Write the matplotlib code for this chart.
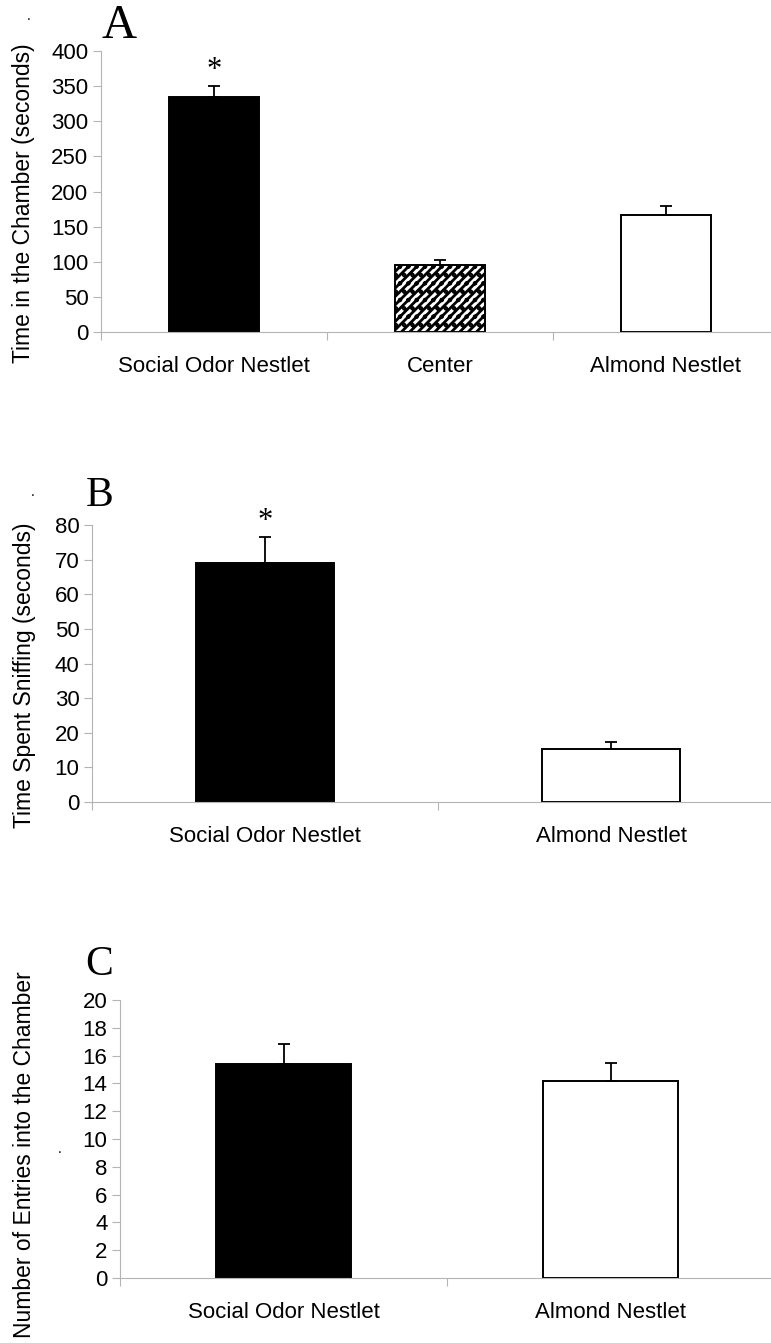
import matplotlib.pyplot as plt
from matplotlib.ticker import FixedLocator, NullFormatter

plt.rcParams['font.family'] = ['Liberation Sans', 'DejaVu Sans']
plt.rcParams['hatch.linewidth'] = 2.0

# Panel A
a_labels = ['Social Odor Nestlet', 'Center', 'Almond Nestlet']
a_values = [335, 96, 166]
a_errors = [15, 6, 13]
a_fills = ['black', 'white', 'white']
a_hatches = [None, '////..', None]

# Panel B
b_labels = ['Social Odor Nestlet', 'Almond Nestlet']
b_values = [69.1, 15.3]
b_errors = [7.4, 1.9]

# Panel C
c_labels = ['Social Odor Nestlet', 'Almond Nestlet']
c_values = [15.4, 14.15]
c_errors = [1.4, 1.35]

W, H = 771, 1343
fig = plt.figure(figsize=(W / 100, H / 100), dpi=100)
GRAY = '#b4b4b4'
FS = 16


def add_panel(left, top, bottom, cat_px, ncat, ylim, yticks):
    # pixel geometry -> figure coords; x axis runs to the right edge
    ax = fig.add_axes([left / W, 1 - bottom / H, (W - left) / W, (bottom - top) / H])
    ax.set_xlim(-0.5, -0.5 + (W - left) / cat_px)
    ax.set_ylim(*ylim)
    ax.set_yticks(yticks)
    for s in ['top', 'right']:
        ax.spines[s].set_visible(False)
    for s in ['left', 'bottom']:
        ax.spines[s].set_color(GRAY)
        ax.spines[s].set_linewidth(0.8)
    ax.tick_params(axis='y', colors=GRAY, labelcolor='black', length=6, width=0.8,
                   labelsize=FS, pad=3)
    # category separators as major ticks, labels on minor ticks
    ax.xaxis.set_major_locator(FixedLocator([i - 0.5 for i in range(ncat + 1)]))
    ax.xaxis.set_major_formatter(NullFormatter())
    ax.tick_params(axis='x', which='major', colors=GRAY, length=6, width=0.8)
    ax.xaxis.set_minor_locator(FixedLocator(range(ncat)))
    ax.tick_params(axis='x', which='minor', length=0, labelsize=FS, pad=17)
    return ax


def draw_bars(ax, values, errors, fills, hatches, width):
    x = list(range(len(values)))
    ax.bar(x, values, width=width, color=fills, edgecolor='black', linewidth=1.4,
           hatch=hatches, zorder=2)
    ax.errorbar(x, values, yerr=[[0] * len(errors), errors], fmt='none',
                ecolor='black', elinewidth=1.3, capsize=4, capthick=1.3, zorder=3)


# ---- A ----
axA = add_panel(101, 51, 332, 226, 3, (0, 400), range(0, 401, 50))
draw_bars(axA, a_values, a_errors, a_fills, a_hatches, 0.40)
axA.set_xticklabels(a_labels, minor=True)
axA.text(0, a_values[0] + a_errors[0] + 2, '*', ha='center', va='bottom',
         fontsize=22, family='Liberation Serif')

# ---- B ----
axB = add_panel(92, 525, 802, 346, 2, (0, 80), range(0, 81, 10))
draw_bars(axB, b_values, b_errors, ['black', 'white'], [None, None], 0.40)
axB.set_xticklabels(b_labels, minor=True)
axB.text(0, b_values[0] + b_errors[0] + 0.3, '*', ha='center', va='bottom',
         fontsize=22, family='Liberation Serif')

# ---- C ----
axC = add_panel(120, 1000, 1278, 327, 2, (0, 20), range(0, 21, 2))
draw_bars(axC, c_values, c_errors, ['black', 'white'], [None, None], 0.41)
axC.set_xticklabels(c_labels, minor=True)

# panel letters, y labels and stray dots
for lab, x, y, size in [('A', 119, 26, 35), ('B', 100, 496, 30), ('C', 99, 965, 30)]:
    fig.text(x / W, 1 - y / H, lab, ha='center', va='center', fontsize=size,
             family='Liberation Serif')

for lab, x, y in [('Time in the Chamber (seconds)', 24, 203),
                  ('Time Spent Sniffing (seconds)', 25, 675),
                  ('Number of Entries into the Chamber', 25, 1155)]:
    fig.text(x / W, 1 - y / H, lab, rotation=90, ha='center', va='center', fontsize=16.5)

for x, y in [(29, 23), (33, 499), (60, 1156)]:
    fig.text(x / W, 1 - y / H, '.', ha='center', va='bottom', fontsize=10)

fig.savefig('out.png', dpi=100)
